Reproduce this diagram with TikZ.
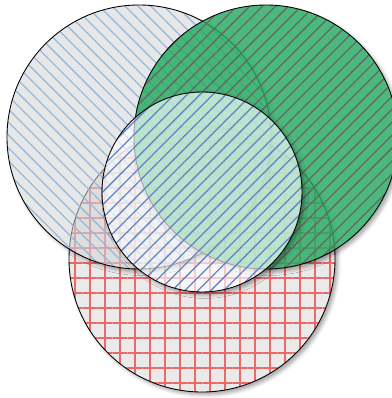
\documentclass[tikz,border=0pt]{standalone}
\usepackage{xcolor}
\usetikzlibrary{patterns.meta,shadows.blur}

\definecolor{vgray}{RGB}{212,212,212}
\definecolor{hatchblue}{RGB}{150,185,222}
\definecolor{centerblue}{RGB}{95,135,200}
\definecolor{vgreen}{RGB}{35,170,96}
\definecolor{gridred}{RGB}{232,78,78}

\begin{document}
\begin{tikzpicture}[
    x=0.03cm, y=-0.03cm,
    discshadow/.style={blur shadow={shadow xshift=2.5pt, shadow yshift=-2.5pt, shadow blur radius=3pt, shadow opacity=35}},
    disc/.style={draw=black, line width=0.75pt},
    reddisc/.style={disc, preaction={fill=vgray!50!white}, pattern={Hatch[angle=0, distance=12.8pt, line width=1.3pt]}, pattern color=gridred!85},
    leftdisc/.style={disc, preaction={fill=vgray, fill opacity=0.55}, fill opacity=0.7, pattern={Lines[angle=-45, distance=7.8pt, line width=1.1pt]}, pattern color=hatchblue},
    greendisc/.style={disc, preaction={fill=vgreen, fill opacity=0.82}, fill opacity=0.82, pattern={Lines[angle=45, distance=7.8pt, line width=1.1pt]}, pattern color=black!60},
    centerdisc/.style={disc, preaction={fill=white, fill opacity=0.64}, fill opacity=0.6, pattern={Lines[angle=45, distance=7.8pt, line width=1.1pt]}, pattern color=centerblue}
]
    \useasboundingbox (0,0) rectangle (391,398);

    \coordinate (bottomc) at (202,259);
    \coordinate (leftc) at (139,137);
    \coordinate (rightc) at (266,137);
    \coordinate (midc) at (202,192);

    % shadow outside each disc, then the disc itself
    \foreach \c/\r/\s in {bottomc/133/reddisc, leftc/132/leftdisc, rightc/132/greendisc, midc/100/centerdisc} {
        \begin{scope}[even odd rule]
            \clip (-20,-20) rectangle (420,420) (\c) circle[radius=\r];
            \path[discshadow] (\c) circle[radius=\r];
        \end{scope}
        \path[\s] (\c) circle[radius=\r];
    }
\end{tikzpicture}
\end{document}
